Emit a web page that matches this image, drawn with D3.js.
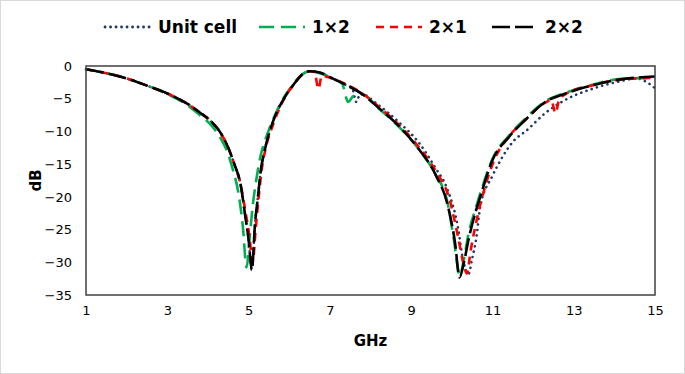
<!DOCTYPE html>
<html lang="en">
<head>
    <meta charset="UTF-8">
    <title>S-parameter curves</title>
    <script src="https://d3js.org/d3.v7.min.js"></script>
    <style>
        body { margin: 0; background: #fff; }
        text { font-family: "DejaVu Sans", Verdana, sans-serif; fill: #000; }
        .tick-label { font-size: 13px; }
        .axis-title { font-size: 15px; font-weight: bold; }
        .legend-label { font-size: 17px; font-weight: bold; }
        .curve { fill: none; stroke-width: 2.6; }
    </style>
</head>
<body>
<svg width="685" height="374"></svg>
<script>
    // Tick values
    const xTicks = [1, 3, 5, 7, 9, 11, 13, 15];
    const yTicks = [0, -5, -10, -15, -20, -25, -30, -35];

    // Unit cell
    const freqUnit = [1, 1.5, 2, 2.5, 3, 3.5, 3.8, 4.1, 4.3, 4.5, 4.65, 4.8, 4.92, 5.0, 5.08, 5.16, 5.23, 5.3, 5.4, 5.6,
        5.85, 6.1, 6.34, 6.5, 6.75, 7.1, 7.4, 7.55, 7.65, 7.75, 8.2, 8.7, 9.2, 9.6, 9.87, 10.15, 10.28, 10.41, 10.5, 10.61,
        10.7, 11.0, 11.2, 11.5, 11.85, 12.3, 12.7, 13.5, 14.1, 14.55, 14.75, 15];
    const dbUnit = [-0.5, -1.1, -1.9, -3.0, -4.2, -5.8, -7.1, -8.6, -10.1, -12.5, -15.0, -18.0, -23.0, -26.5, -31.0, -24.0, -20.0, -16.0, -12.8, -8.5,
        -5.2, -2.9, -1.2, -0.8, -1.0, -2.0, -2.9, -3.4, -5.5, -4.2, -6.0, -8.6, -11.8, -15.6, -18.5, -24.6, -29.7, -31.8, -29.5, -26.0,
        -21.5, -16.8, -14.4, -11.6, -9.8, -7.2, -5.5, -3.4, -2.4, -1.9, -2.3, -3.4];

    // 1×2
    const freq1x2 = [1, 1.5, 2, 2.5, 3, 3.5, 3.8, 4.1, 4.3, 4.5, 4.62, 4.75, 4.86, 4.95, 5.03, 5.1, 5.2, 5.3, 5.4, 5.6,
        5.85, 6.1, 6.34, 6.5, 6.75, 7.1, 7.3, 7.45, 7.58, 7.8, 8.2, 8.7, 9.2, 9.6, 9.9, 10.05, 10.2, 10.3, 10.4, 10.6,
        10.7, 11.0, 11.4, 11.8, 12.3, 12.8, 13.5, 14.1, 15];
    const db1x2 = [-0.5, -1.1, -1.9, -3.0, -4.3, -6.0, -7.5, -9.2, -10.9, -13.5, -16.0, -19.4, -24.6, -30.8, -26.0, -21.5, -17.0, -13.6, -11.5, -8.2,
        -5.0, -2.8, -1.2, -0.8, -1.1, -2.0, -2.7, -5.5, -4.6, -4.4, -6.5, -9.3, -12.8, -16.6, -21.0, -26.5, -32.0, -29.5, -26.0, -21.5,
        -19.5, -14.2, -10.7, -8.1, -5.4, -4.1, -2.8, -2.0, -1.8];

    // 2×1
    const freq2x1 = [1, 1.5, 2, 2.5, 3, 3.5, 3.8, 4.1, 4.3, 4.5, 4.65, 4.8, 4.93, 5.02, 5.1, 5.18, 5.25, 5.32, 5.42, 5.6,
        5.85, 6.1, 6.34, 6.5, 6.62, 6.72, 6.8, 7.1, 7.4, 7.8, 8.2, 8.7, 9.2, 9.6, 9.95, 10.15, 10.3, 10.37, 10.47, 10.65,
        10.75, 11.05, 11.4, 11.8, 12.3, 12.45, 12.55, 12.65, 12.8, 13.5, 14.1, 15];
    const db2x1 = [-0.5, -1.1, -1.9, -3.0, -4.2, -5.8, -7.1, -8.6, -10.1, -12.5, -15.0, -18.0, -22.5, -26.0, -30.0, -24.5, -20.0, -16.0, -12.6, -9.0,
        -5.3, -2.9, -1.2, -0.8, -0.9, -3.5, -1.5, -2.0, -2.8, -4.2, -6.2, -9.0, -12.5, -16.0, -20.5, -26.0, -30.5, -31.7, -28.0, -22.5,
        -20.0, -14.3, -10.8, -8.3, -5.6, -5.2, -7.2, -5.0, -4.3, -2.9, -2.1, -1.8];

    // 2×2
    const freq2x2 = [1, 1.5, 2, 2.5, 3, 3.5, 3.8, 4.1, 4.3, 4.5, 4.65, 4.8, 4.92, 5.0, 5.08, 5.16, 5.23, 5.3, 5.4, 5.6,
        5.85, 6.1, 6.34, 6.5, 6.75, 7.1, 7.4, 7.8, 8.2, 8.7, 9.2, 9.6, 9.9, 10.08, 10.19, 10.3, 10.41, 10.6, 10.7, 11.0,
        11.4, 11.8, 12.3, 12.8, 13.5, 14.1, 15];
    const db2x2 = [-0.5, -1.1, -1.9, -3.0, -4.2, -5.8, -7.1, -8.6, -10.1, -12.5, -15.0, -18.0, -23.0, -26.5, -31.2, -24.0, -20.0, -16.0, -12.8, -8.5,
        -5.2, -2.9, -1.2, -0.8, -1.0, -2.0, -2.9, -4.3, -6.4, -9.2, -12.8, -16.6, -21.3, -27.0, -32.3, -30.0, -26.6, -22.0, -20.0, -14.4,
        -10.9, -8.3, -5.5, -4.2, -2.9, -2.1, -1.6];

    const seriesNames = ["Unit cell", "1×2", "2×1", "2×2"];
    const seriesColors = ["#1f3864", "#00b050", "#ff0000", "#000000"];
    const seriesDash = ["0.1 5.4", "15 7", "8 6", "18 5"];
    const seriesFreq = [freqUnit, freq1x2, freq2x1, freq2x2];
    const seriesDb = [dbUnit, db1x2, db2x1, db2x2];

    const W = 685, H = 374;
    const margin = { top: 66, right: 30, bottom: 79, left: 86 };
    const width = W - margin.left - margin.right;
    const height = H - margin.top - margin.bottom;

    const svg = d3.select("svg");

    // outer chart border
    svg.append("rect")
        .attr("x", 0.5).attr("y", 0.5)
        .attr("width", W - 1).attr("height", H - 1)
        .attr("fill", "#fff").attr("stroke", "#d9d9d9");

    const g = svg.append("g")
        .attr("transform", `translate(${margin.left},${margin.top})`);

    const x = d3.scaleLinear().domain([1, 15]).range([0, width]);
    const y = d3.scaleLinear().domain([-35, 0]).range([height, 0]);

    // y axis labels
    g.append("g")
        .call(d3.axisLeft(y).tickValues(yTicks).tickSize(0).tickPadding(14))
        .call(a => a.select(".domain").remove())
        .selectAll("text")
        .attr("class", "tick-label")
        .attr("font-family", null).attr("font-size", null);

    // x axis labels
    g.append("g")
        .attr("transform", `translate(0,${height})`)
        .call(d3.axisBottom(x).tickValues(xTicks).tickSize(0).tickPadding(11))
        .call(a => a.select(".domain").remove())
        .selectAll("text")
        .attr("class", "tick-label")
        .attr("font-family", null).attr("font-size", null);

    // curves
    const line = d3.line()
        .x(d => x(d[0]))
        .y(d => y(d[1]))
        .curve(d3.curveMonotoneX);

    seriesNames.forEach((name, i) => {
        const pts = seriesFreq[i].map((f, j) => [f, seriesDb[i][j]]);
        g.append("path")
            .datum(pts)
            .attr("class", "curve")
            .attr("stroke", seriesColors[i])
            .attr("stroke-dasharray", seriesDash[i])
            .attr("stroke-linecap", i === 0 ? "round" : "butt")
            .attr("stroke-width", i === 0 ? 2.8 : 2.6)
            .attr("d", line);
    });

    // plot frame
    g.append("rect")
        .attr("width", width).attr("height", height)
        .attr("fill", "none").attr("stroke", "#404040").attr("stroke-width", 1.5);

    // axis titles
    svg.append("text")
        .attr("class", "axis-title")
        .attr("text-anchor", "middle")
        .attr("transform", `translate(41,${margin.top + height / 2}) rotate(-90)`)
        .text("dB");

    svg.append("text")
        .attr("class", "axis-title")
        .attr("text-anchor", "middle")
        .attr("x", margin.left + width / 2)
        .attr("y", 346)
        .text("GHz");

    // legend
    const legendX = [105, 259, 376, 492];
    const legend = svg.append("g");
    seriesNames.forEach((name, i) => {
        legend.append("line")
            .attr("x1", legendX[i]).attr("x2", legendX[i] + 46)
            .attr("y1", 27).attr("y2", 27)
            .attr("stroke", seriesColors[i])
            .attr("stroke-dasharray", seriesDash[i])
            .attr("stroke-linecap", i === 0 ? "round" : "butt")
            .attr("stroke-width", i === 0 ? 2.8 : 2.6);
        legend.append("text")
            .attr("class", "legend-label")
            .attr("x", legendX[i] + 53)
            .attr("y", 33)
            .text(name);
    });
</script>
</body>
</html>
